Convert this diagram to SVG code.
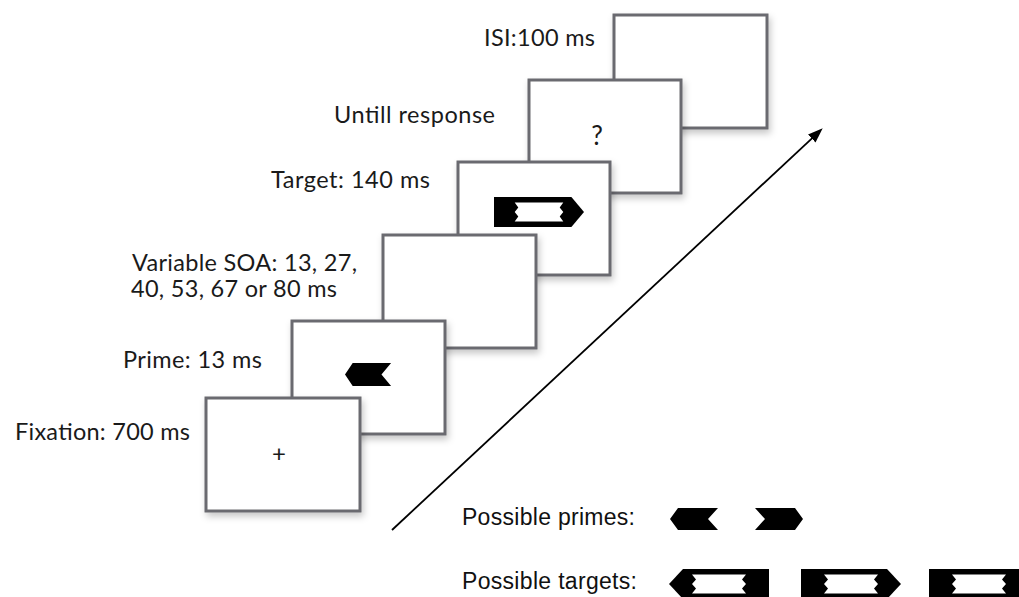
<svg xmlns="http://www.w3.org/2000/svg" xmlns:xlink="http://www.w3.org/1999/xlink" width="1019" height="597" viewBox="0 0 1019 597">
<style>
.box{fill:#fff;stroke:#6b6b6f;stroke-width:3;filter:url(#sh)}
.lbl{font-family:Lato,"Open Sans","DejaVu Sans",sans-serif;font-size:23.5px;fill:#1a1a1a}
.leg{font-family:"Liberation Sans",Arial,sans-serif;font-size:23px;fill:#111}
.blk{fill:#000}
.wht{fill:#fff}
</style>
<defs>
<filter id="sh" x="-10%" y="-10%" width="125%" height="130%">
<feDropShadow dx="2" dy="4" stdDeviation="3.5" flood-color="#000" flood-opacity="0.22"/>
</filter>
<marker id="ah" markerUnits="userSpaceOnUse" markerWidth="15" markerHeight="11" refX="8" refY="5.5" orient="auto">
<path d="M0,0 L15,5.5 L0,11 z" fill="#000"/>
</marker>
<g id="primeL">
<polygon class="blk" points="0,11 8,0 48,0 38,11 48,22 8,22"/>
</g>
<g id="targetR">
<polygon class="blk" points="0,0 86,0 100,15 86,30 0,30"/>
<polygon class="wht" points="23,5.5 77,5.5 73,10.5 77,15 73,19.5 77,24.5 23,24.5 27,19.5 23,15 27,10.5"/>
</g>
<g id="targetN">
<polygon class="blk" points="0,0 100,0 100,30 0,30"/>
<polygon class="wht" points="23,5.5 77,5.5 73,10.5 77,15 73,19.5 77,24.5 23,24.5 27,19.5 23,15 27,10.5"/>
</g>
</defs>
<rect width="1019" height="597" fill="#fff"/>

<g id="isi">
<rect class="box" x="614" y="15" width="153" height="113"/>
<text class="lbl" x="484" y="46" textLength="111">ISI:100 ms</text>
</g>

<g id="response">
<rect class="box" x="529" y="80" width="152" height="113"/>
<text class="lbl" x="334" y="123" textLength="161">Untill response</text>
<text class="lbl" x="597" y="145" text-anchor="middle" style="font-size:26px">?</text>
</g>

<g id="target">
<rect class="box" x="458" y="162" width="152" height="113"/>
<text class="lbl" x="271" y="188" textLength="159">Target: 140 ms</text>
<use xlink:href="#targetR" transform="translate(494,197) scale(0.9,1)"/>
</g>

<g id="soa">
<rect class="box" x="383" y="235" width="153" height="113"/>
<text class="lbl" x="132" y="271" textLength="225">Variable SOA: 13, 27,</text>
<text class="lbl" x="131" y="297" textLength="206">40, 53, 67 or 80 ms</text>
</g>

<g id="prime">
<rect class="box" x="292" y="321" width="153" height="113"/>
<text class="lbl" x="123" y="368" textLength="139">Prime: 13 ms</text>
<use xlink:href="#primeL" transform="translate(345,363) scale(0.96,1.04)"/>
</g>

<g id="fixation">
<rect class="box" x="206" y="398" width="154" height="113"/>
<text class="lbl" x="15" y="440" textLength="175">Fixation: 700 ms</text>
<text class="lbl" x="279" y="462" text-anchor="middle" style="font-size:24px">+</text>
</g>

<g id="connectors">
<line x1="392" y1="530" x2="817.6" y2="133.1" stroke="#000" stroke-width="1.8" marker-end="url(#ah)"/>
</g>

<g id="legend-primes">
<text class="leg" x="462" y="525" textLength="173">Possible primes:</text>
<use xlink:href="#primeL" transform="translate(670,508)"/>
<use xlink:href="#primeL" transform="translate(803,508) scale(-1,1)"/>
</g>

<g id="legend-targets">
<text class="leg" x="462" y="589" textLength="175">Possible targets:</text>
<use xlink:href="#targetR" transform="translate(769,569) scale(-1,1)"/>
<use xlink:href="#targetR" transform="translate(801,569)"/>
<use xlink:href="#targetN" transform="translate(929,569)"/>
</g>
</svg>
